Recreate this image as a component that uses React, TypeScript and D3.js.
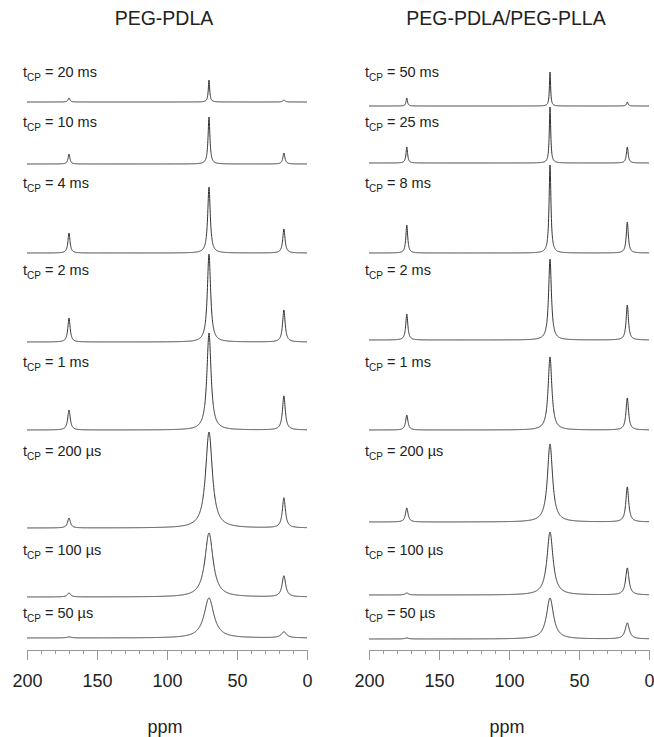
import React, { useRef, useEffect } from "react";
import * as d3 from "d3";

const W = 654;
const H = 737;

const panelTitles = ["PEG-PDLA", "PEG-PDLA/PEG-PLLA"];
const leftTimes = ["20 ms", "10 ms", "4 ms", "2 ms", "1 ms", "200 \u00B5s", "100 \u00B5s", "50 \u00B5s"];
const rightTimes = ["50 ms", "25 ms", "8 ms", "2 ms", "1 ms", "200 \u00B5s", "100 \u00B5s", "50 \u00B5s"];

// peak positions in ppm: C=O, main (PEG / CH), CH3
const leftShifts = [170, 70, 16.5];
const rightShifts = [173, 70.7, 15.5];

// vertical stacking offset of each trace (intensity units)
const leftOffsets = [548, 486, 397, 308, 220, 122, 53, 12];
const rightOffsets = [544, 487, 397, 310, 220, 128, 55, 11];

// peak heights, top trace first
const leftCO = [4, 10, 20, 24, 20, 10, 4, 1];
const leftMain = [22, 47, 66, 88, 97, 96, 64, 40];
const leftMe = [2, 11, 24, 32, 34, 30, 21, 6];
const rightCO = [8, 16, 28, 26, 15, 14, 2, 1];
const rightMain = [34, 56, 88, 81, 73, 78, 63, 41];
const rightMe = [4, 16, 31, 35, 32, 35, 27, 16];

// half widths (ppm)
const leftMainWidth = [0.6, 0.8, 1.1, 1.4, 1.8, 2.9, 3.5, 4.2];
const leftSmallWidth = [0.8, 0.8, 0.9, 1.0, 1.1, 1.2, 1.4, 2.0];
const rightMainWidth = [0.5, 0.6, 0.8, 1.2, 1.6, 2.2, 2.6, 3.0];
const rightSmallWidth = [0.6, 0.7, 0.8, 0.9, 1.0, 1.1, 1.3, 1.6];

// label rows (shared by both panels)
const labelRows = [72, 122, 183, 270, 362, 451, 550, 613];

const FONT = "'Liberation Sans', Arial, Helvetica, sans-serif";

const lorentz = (x, x0, h, w) => h / (1 + ((x - x0) / w) ** 2);

function App() {
  const svgRef = useRef();

  useEffect(() => {
    const svg = d3.select(svgRef.current);
    svg.selectAll("*").remove();

    const panels = [
      {
        title: panelTitles[0], times: leftTimes, shifts: leftShifts, offsets: leftOffsets,
        co: leftCO, main: leftMain, me: leftMe, mw: leftMainWidth, sw: leftSmallWidth,
        x0: 27, x1: 307,
      },
      {
        title: panelTitles[1], times: rightTimes, shifts: rightShifts, offsets: rightOffsets,
        co: rightCO, main: rightMain, me: rightMe, mw: rightMainWidth, sw: rightSmallWidth,
        x0: 369, x1: 649,
      },
    ];

    const axisY = 650;
    const ppm = d3.range(0, 2001).map((i) => 200 - i * 0.1);

    panels.forEach((p) => {
      const g = svg.append("g");
      const x = d3.scaleLinear().domain([200, 0]).range([p.x0, p.x1]);
      const y = d3.scaleLinear().domain([0, 600]).range([axisY, axisY - 600]);
      const cx = (p.x0 + p.x1) / 2;

      g.append("text")
        .attr("x", cx - 3)
        .attr("y", 25)
        .attr("text-anchor", "middle")
        .attr("font-family", FONT)
        .attr("font-size", 19.5)
        .attr("fill", "#222")
        .text(p.title);

      const line = d3
        .line()
        .x((d) => x(d[0]))
        .y((d) => y(d[1]));

      p.times.forEach((t, i) => {
        const pts = ppm.map((v) => [
          v,
          p.offsets[i] +
            lorentz(v, p.shifts[0], p.co[i], p.sw[i]) +
            lorentz(v, p.shifts[1], p.main[i], p.mw[i]) +
            lorentz(v, p.shifts[2], p.me[i], p.sw[i] * 1.1),
        ]);
        g.append("path")
          .attr("d", line(pts))
          .attr("fill", "none")
          .attr("stroke", "#333")
          .attr("stroke-width", 1)
          .attr("stroke-linejoin", "round");

        const label = g
          .append("text")
          .attr("x", p.x0 - 4)
          .attr("y", labelRows[i] + 5)
          .attr("font-family", FONT)
          .attr("font-size", 14.5)
          .attr("fill", "#222");
        label.append("tspan").text("t");
        label.append("tspan").attr("font-size", 10).attr("dy", 4).text("CP");
        label.append("tspan").attr("dy", -4).text(" = " + t);
      });

      const axis = d3
        .axisBottom(x)
        .tickValues(d3.range(0, 201, 10))
        .tickFormat((d) => (d % 50 === 0 ? String(d) : ""))
        .tickSizeOuter(0);

      const ax = g.append("g").attr("transform", `translate(0,${axisY})`).call(axis);
      ax.select(".domain").attr("stroke", "#999");
      ax.selectAll(".tick line")
        .attr("stroke", "#999")
        .attr("y2", (d) => (d % 50 === 0 ? 10 : 4));
      ax.selectAll(".tick text")
        .attr("y", 24)
        .attr("font-family", FONT)
        .attr("font-size", 18)
        .attr("fill", "#222");

      g.append("text")
        .attr("x", cx - 2)
        .attr("y", 733)
        .attr("text-anchor", "middle")
        .attr("font-family", FONT)
        .attr("font-size", 18)
        .attr("fill", "#222")
        .text("ppm");
    });
  }, []);

  return (
    <svg
      ref={svgRef}
      width={W}
      height={H}
      style={{ position: "absolute", left: 0, top: 0, background: "#fff" }}
    ></svg>
  );
}

export default App;
